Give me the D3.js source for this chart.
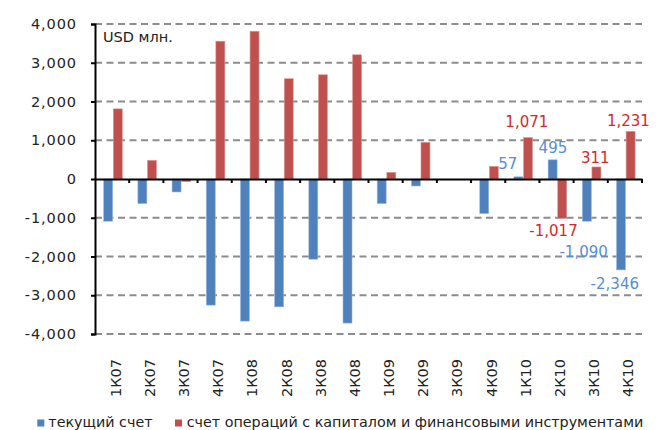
<!DOCTYPE html>
<html><head><meta charset="utf-8">
<script src="https://cdn.jsdelivr.net/npm/d3@7"></script>
<style>body{margin:0;background:#fff}svg{display:block}</style>
</head><body>
<script>
const categories = ["1К07","2К07","3К07","4К07","1К08","2К08","3К08","4К08","1К09","2К09","3К09","4К09","1К10","2К10","3К10","4К10"];
const currentAccount = [-1090,-634,-335,-3255,-3668,-3299,-2070,-3719,-634,-180,0,-892,57,495,-1090,-2346];
const capitalAccount = [1810,482,-70,3557,3814,2588,2690,3206,173,946,0,327,1071,-1017,311,1231];
const yTicks = [-4000,-3000,-2000,-1000,0,1000,2000,3000,4000];
const seriesNames = ["текущий счет","счет операций с капиталом и финансовыми инструментами"];
const unitLabel = "USD млн.";
const labelledCategories = ["1К10","2К10","3К10","4К10"];

// label placement tweaks (dx from bar centre, dy from bar end), styling only
const labelNudge = {
  "1К10-0":[-11,-8], "1К10-1":[-1.5,-10],
  "2К10-0":[0,-7],   "2К10-1":[-9,18],
  "3К10-0":[-3.5,36],"3К10-1":[-1.5,-4],
  "4К10-0":[-6.5,19],"4К10-1":[-2.5,-5]
};

const W=656,H=430;
const pLeft=95,pRight=642,pTop=24,pBottom=334;
const colors=["#4f81bd","#c0504d"];
const edgeColors=["#9db9dd","#dc9c9a"];
const labelColors=["#558ed5","#d8282a"];
const font="DejaVu Sans";
const fmt = d3.formatLocale({decimal:".",thousands:",",grouping:[3],currency:["",""],minus:"-"}).format(",");

const svg=d3.select("body").append("svg").attr("width",W).attr("height",H)
  .style("font-family",font);

const y=d3.scaleLinear().domain([-4000,4000]).range([pBottom,pTop]);
const x=d3.scaleBand().domain(categories).range([pLeft,pRight]).paddingInner(0).paddingOuter(0);
const x1=d3.scaleBand().domain([0,1]).range([0,x.bandwidth()]).paddingInner(0).paddingOuter(0.78).align(0.58);

// gridlines
svg.append("g").selectAll("line").data(yTicks.filter(d=>d!==0)).join("line")
  .attr("x1",pLeft).attr("x2",pRight).attr("y1",d=>y(d)).attr("y2",d=>y(d))
  .attr("stroke","#8c8c8c").attr("stroke-width",2).attr("stroke-dasharray","7,4.5");

// y axis
const yAxis=svg.append("g").attr("transform",`translate(${pLeft},0)`)
  .call(d3.axisLeft(y).tickValues(yTicks).tickFormat(fmt).tickSize(4).tickPadding(14));
yAxis.select(".domain").attr("stroke","#000").attr("stroke-width",2);
yAxis.selectAll(".tick line").attr("stroke","#000").attr("stroke-width",2);
yAxis.selectAll(".tick text").attr("font-size",14.5).attr("fill","#222").attr("font-family",font)
  .attr("letter-spacing","0.9px");

// bars
const series=[currentAccount,capitalAccount];
series.forEach((vals,s)=>{
  svg.append("g").selectAll("rect").data(vals.map((v,i)=>({v,c:categories[i]})).filter(d=>d.v!==0)).join("rect")
    .attr("x",d=>x(d.c)+x1(s)).attr("width",x1.bandwidth()-0.6)
    .attr("y",d=>y(Math.max(0,d.v))).attr("height",d=>Math.abs(y(d.v)-y(0)))
    .attr("fill",colors[s]).attr("stroke",edgeColors[s]).attr("stroke-width",0.6);
});

// x axis at zero
const xAxis=svg.append("g").attr("transform",`translate(0,${y(0)})`)
  .call(d3.axisBottom(x).tickSize(0).tickFormat(""));
xAxis.select(".domain").attr("stroke","#000").attr("stroke-width",2);
svg.append("g").selectAll("line").data(categories).join("line")
  .attr("x1",d=>x(d)+x.bandwidth()).attr("x2",d=>x(d)+x.bandwidth())
  .attr("y1",y(0)).attr("y2",y(0)+4).attr("stroke","#000").attr("stroke-width",2);

// category labels (rotated)
svg.append("g").selectAll("text").data(categories).join("text")
  .attr("transform",d=>`translate(${x(d)+x.bandwidth()/2+8.5},359) rotate(-90)`)
  .attr("text-anchor","end").attr("font-size",14.5).attr("fill","#222").text(d=>d);

// data labels
series.forEach((vals,s)=>{
  const data=labelledCategories.map(c=>({c,v:vals[categories.indexOf(c)]}));
  svg.append("g").selectAll("text").data(data).join("text")
    .attr("x",d=>x(d.c)+x1(s)+x1.bandwidth()/2+labelNudge[d.c+"-"+s][0])
    .attr("y",d=>y(d.v)+labelNudge[d.c+"-"+s][1])
    .attr("text-anchor","middle").attr("font-size",15).attr("fill",labelColors[s])
    .text(d=>fmt(d.v));
});

// unit
svg.append("text").attr("x",103).attr("y",42).attr("font-size",14.5).attr("fill","#222").text(unitLabel);

// legend
const leg=[{x:37.3,tx:48.3},{x:175,tx:186.7}];
seriesNames.forEach((n,i)=>{
  svg.append("rect").attr("x",leg[i].x).attr("y",419.5).attr("width",7).attr("height",7).attr("fill",colors[i]);
  svg.append("text").attr("x",leg[i].tx).attr("y",427).attr("font-size",14.3).attr("fill","#222").text(n);
});
</script>
</body></html>
